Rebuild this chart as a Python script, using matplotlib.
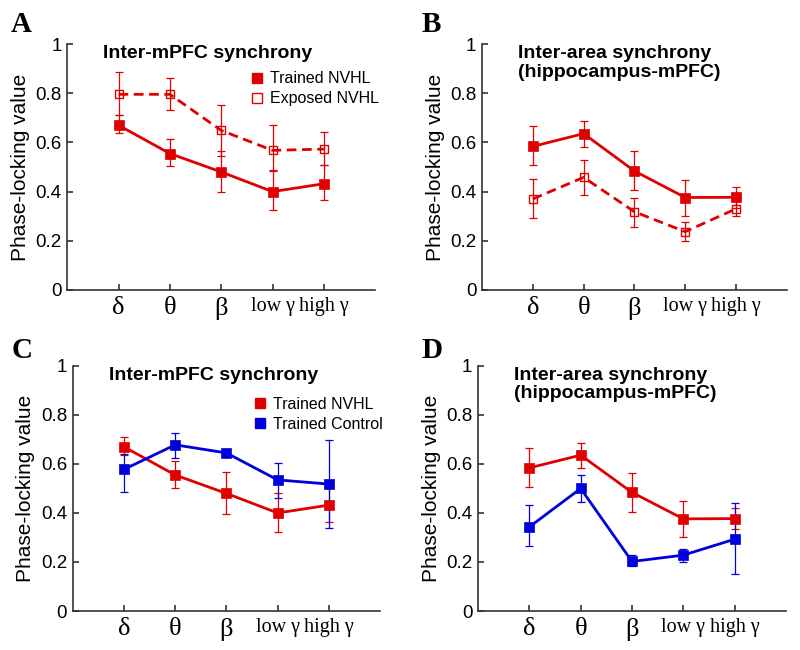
import matplotlib
import matplotlib.pyplot as plt
from matplotlib.lines import Line2D

matplotlib.use("Agg")

# frequency bands
bands = ["δ", "θ", "β", "low γ", "high γ"]
xpos = [0, 1, 2, 3, 4]

# inter-mPFC, trained NVHL
mpfc_nvhl = [0.67, 0.555, 0.48, 0.40, 0.432]
mpfc_nvhl_lo = [0.638, 0.503, 0.397, 0.324, 0.365]
mpfc_nvhl_hi = [0.712, 0.614, 0.566, 0.482, 0.507]

# inter-mPFC, exposed NVHL
mpfc_exp = [0.796, 0.796, 0.649, 0.568, 0.573]
mpfc_exp_lo = [0.712, 0.732, 0.546, 0.49, 0.508]
mpfc_exp_hi = [0.885, 0.863, 0.754, 0.672, 0.642]

# inter-mPFC, trained control
mpfc_ctl = [0.578, 0.678, 0.645, 0.535, 0.518]
mpfc_ctl_lo = [0.487, 0.625, 0.635, 0.46, 0.34]
mpfc_ctl_hi = [0.64, 0.728, 0.655, 0.605, 0.698]

# hippocampus-mPFC, trained NVHL
hpc_nvhl = [0.584, 0.636, 0.484, 0.376, 0.377]
hpc_nvhl_lo = [0.507, 0.582, 0.406, 0.302, 0.335]
hpc_nvhl_hi = [0.666, 0.686, 0.564, 0.449, 0.42]

# hippocampus-mPFC, exposed NVHL
hpc_exp = [0.37, 0.458, 0.318, 0.237, 0.33]
hpc_exp_lo = [0.293, 0.388, 0.256, 0.2, 0.3]
hpc_exp_hi = [0.453, 0.53, 0.376, 0.276, 0.364]

# hippocampus-mPFC, trained control
hpc_ctl = [0.343, 0.50, 0.202, 0.228, 0.293]
hpc_ctl_lo = [0.264, 0.443, 0.185, 0.2, 0.153]
hpc_ctl_hi = [0.432, 0.557, 0.23, 0.255, 0.44]

RED = "#e00000"
BLUE = "#0000dd"
SANS = "Liberation Sans"
SERIF = "Liberation Serif"

fig = plt.figure(figsize=(8, 6.5), dpi=100)


def err(v, lo, hi):
    return [[a - b for a, b in zip(v, lo)], [c - a for a, c in zip(v, hi)]]


def series(ax, v, lo, hi, color, filled=True, dashed=False):
    ax.errorbar(xpos, v, yerr=err(v, lo, hi), fmt="none", ecolor=color,
                elinewidth=0.9, capsize=3, capthick=0.9, zorder=2)
    ax.plot(xpos, v, color=color, lw=2, ls=(0, (3.5, 2)) if dashed else "-",
            marker="s", ms=7.5 if filled else 6,
            mfc=color if filled else "none", mec=color,
            mew=1 if not filled else 0.5, zorder=3)


def setup(ax, letter, lpos, title):
    ax.set_xlim(-1, 5)
    ax.set_ylim(0, 1)
    ax.set_xticks(xpos)
    ax.set_xticklabels(bands, fontfamily=SERIF, fontsize=14.5)
    # single greek letters are drawn larger in the original
    for t in ax.get_xticklabels()[:3]:
        t.set_fontsize(19)
    ax.set_yticks([0, 0.2, 0.4, 0.6, 0.8, 1])
    ax.set_yticklabels(["0", "0.2", "0.4", "0.6", "0.8", "1"],
                       fontfamily=SANS, fontsize=13.5)
    ax.tick_params(direction="in", length=4, width=1.2, color="#333333")
    ax.tick_params(axis="y", pad=4)
    ax.tick_params(axis="x", pad=5)
    for s in ["top", "right"]:
        ax.spines[s].set_visible(False)
    for s in ["left", "bottom"]:
        ax.spines[s].set_color("#333333")
        ax.spines[s].set_linewidth(1.2)
    ax.set_ylabel("Phase-locking value", fontfamily=SANS, fontsize=15,
                  labelpad=4)
    ax.text(0.117, 0.995, title, transform=ax.transAxes, ha="left", va="top",
            fontfamily=SANS, fontweight="bold", fontsize=14, linespacing=1.1)
    fig.text(lpos[0], lpos[1], letter, ha="left", va="baseline",
             fontfamily=SERIF, fontweight="bold", fontsize=21)


axA = fig.add_axes([0.084, 0.554, 0.385, 0.378])
axB = fig.add_axes([0.6025, 0.554, 0.381, 0.378])
axC = fig.add_axes([0.091, 0.06, 0.384, 0.377])
axD = fig.add_axes([0.5975, 0.06, 0.385, 0.377])

series(axA, mpfc_exp, mpfc_exp_lo, mpfc_exp_hi, RED, filled=False, dashed=True)
series(axA, mpfc_nvhl, mpfc_nvhl_lo, mpfc_nvhl_hi, RED)
setup(axA, "A", (0.014, 0.951), "Inter-mPFC synchrony")

series(axB, hpc_exp, hpc_exp_lo, hpc_exp_hi, RED, filled=False, dashed=True)
series(axB, hpc_nvhl, hpc_nvhl_lo, hpc_nvhl_hi, RED)
setup(axB, "B", (0.527, 0.951), "Inter-area synchrony\n(hippocampus-mPFC)")

series(axC, mpfc_nvhl, mpfc_nvhl_lo, mpfc_nvhl_hi, RED)
series(axC, mpfc_ctl, mpfc_ctl_lo, mpfc_ctl_hi, BLUE)
setup(axC, "C", (0.015, 0.450), "Inter-mPFC synchrony")

series(axD, hpc_nvhl, hpc_nvhl_lo, hpc_nvhl_hi, RED)
series(axD, hpc_ctl, hpc_ctl_lo, hpc_ctl_hi, BLUE)
setup(axD, "D", (0.527, 0.450), "Inter-area synchrony\n(hippocampus-mPFC)")

# legends: marker only
h_tr = Line2D([], [], ls="none", marker="s", ms=7, mfc=RED, mec=RED)
h_ex = Line2D([], [], ls="none", marker="s", ms=7, mfc="none", mec=RED, mew=1)
h_ctl = Line2D([], [], ls="none", marker="s", ms=7, mfc=BLUE, mec=BLUE)
leg_kw = dict(frameon=False, prop={"family": SANS, "size": 11.5},
              handlelength=0.8, handletextpad=0.4, labelspacing=0.3,
              borderaxespad=0)
axA.legend([h_tr, h_ex], ["Trained NVHL", "Exposed NVHL"],
           loc="upper left", bbox_to_anchor=(0.575, 0.915), **leg_kw)
axC.legend([h_tr, h_ctl], ["Trained NVHL", "Trained Control"],
           loc="upper left", bbox_to_anchor=(0.567, 0.9), **leg_kw)

fig.savefig("out.png", dpi=100)
